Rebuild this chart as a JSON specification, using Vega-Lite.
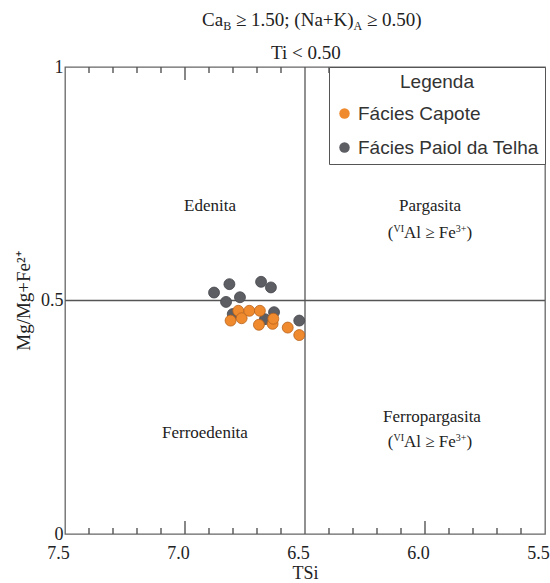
{
  "$schema": "https://vega.github.io/schema/vega-lite/v6.json",
  "autosize": {"type": "none"},
  "width": 480,
  "height": 467,
  "padding": {"left": 65, "top": 67, "right": 5, "bottom": 49},
  "background": "white",
  "config": {
    "view": {"stroke": "#666", "strokeWidth": 1.3},
    "text": {"font": "Liberation Serif", "fontSize": 17, "color": "#222"}
  },
  "datasets": {
    "points": [
      {"TSi": 6.879, "Mg": 0.517, "Facies": "Fácies Paiol da Telha"},
      {"TSi": 6.815, "Mg": 0.535, "Facies": "Fácies Paiol da Telha"},
      {"TSi": 6.829, "Mg": 0.497, "Facies": "Fácies Paiol da Telha"},
      {"TSi": 6.771, "Mg": 0.507, "Facies": "Fácies Paiol da Telha"},
      {"TSi": 6.683, "Mg": 0.540, "Facies": "Fácies Paiol da Telha"},
      {"TSi": 6.642, "Mg": 0.528, "Facies": "Fácies Paiol da Telha"},
      {"TSi": 6.801, "Mg": 0.471, "Facies": "Fácies Paiol da Telha"},
      {"TSi": 6.629, "Mg": 0.475, "Facies": "Fácies Paiol da Telha"},
      {"TSi": 6.667, "Mg": 0.460, "Facies": "Fácies Paiol da Telha"},
      {"TSi": 6.524, "Mg": 0.457, "Facies": "Fácies Paiol da Telha"},
      {"TSi": 6.810, "Mg": 0.457, "Facies": "Fácies Capote"},
      {"TSi": 6.778, "Mg": 0.478, "Facies": "Fácies Capote"},
      {"TSi": 6.764, "Mg": 0.462, "Facies": "Fácies Capote"},
      {"TSi": 6.732, "Mg": 0.478, "Facies": "Fácies Capote"},
      {"TSi": 6.688, "Mg": 0.478, "Facies": "Fácies Capote"},
      {"TSi": 6.692, "Mg": 0.448, "Facies": "Fácies Capote"},
      {"TSi": 6.635, "Mg": 0.450, "Facies": "Fácies Capote"},
      {"TSi": 6.632, "Mg": 0.461, "Facies": "Fácies Capote"},
      {"TSi": 6.572, "Mg": 0.442, "Facies": "Fácies Capote"},
      {"TSi": 6.524, "Mg": 0.426, "Facies": "Fácies Capote"}
    ],
    "minorTicks": [
      {"TSi": 7.4}, {"TSi": 7.3}, {"TSi": 7.2}, {"TSi": 7.1},
      {"TSi": 6.9}, {"TSi": 6.8}, {"TSi": 6.7}, {"TSi": 6.6},
      {"TSi": 6.4}, {"TSi": 6.3}, {"TSi": 6.2}, {"TSi": 6.1},
      {"TSi": 5.9}, {"TSi": 5.8}, {"TSi": 5.7}, {"TSi": 5.6}
    ],
    "majorTicks": [{"TSi": 7.0}, {"TSi": 6.0}],
    "fieldNames": [
      {"TSi": 6.896, "Mg": 0.692, "text": "Edenita"},
      {"TSi": 5.979, "Mg": 0.692, "text": "Pargasita"},
      {"TSi": 6.917, "Mg": 0.2056, "text": "Ferroedenita"},
      {"TSi": 5.971, "Mg": 0.240, "text": "Ferropargasita"}
    ],
    "conditionText": [
      {"TSi": 6.155, "Mg": 0.634, "text": "("},
      {"TSi": 6.0875, "Mg": 0.634, "text": "Al ≥ Fe"},
      {"TSi": 5.827, "Mg": 0.634, "text": ")"},
      {"TSi": 6.155, "Mg": 0.186, "text": "("},
      {"TSi": 6.0875, "Mg": 0.186, "text": "Al ≥ Fe"},
      {"TSi": 5.827, "Mg": 0.186, "text": ")"}
    ],
    "conditionSup": [
      {"TSi": 6.131, "Mg": 0.634, "text": "VI"},
      {"TSi": 5.872, "Mg": 0.634, "text": "3+"},
      {"TSi": 6.131, "Mg": 0.186, "text": "VI"},
      {"TSi": 5.872, "Mg": 0.186, "text": "3+"}
    ],
    "headText": [
      {"TSi": 6.929, "Mg": 1.0878, "text": "Ca"},
      {"TSi": 6.788, "Mg": 1.0878, "text": "≥ 1.50; (Na+K)"},
      {"TSi": 6.242, "Mg": 1.0878, "text": "≥ 0.50)"}
    ],
    "headSub": [
      {"TSi": 6.841, "Mg": 1.0878, "text": "B"},
      {"TSi": 6.298, "Mg": 1.0878, "text": "A"}
    ],
    "headLine2": [
      {"TSi": 6.496, "Mg": 1.0171, "text": "Ti < 0.50"}
    ]
  },
  "layer": [
    {
      "data": {"values": [{}]},
      "mark": {"type": "rule", "color": "#555", "strokeWidth": 1.3},
      "encoding": {
        "x": {"datum": 7.5, "type": "quantitative", "scale": {"domain": [5.5, 7.5], "reverse": true, "nice": false, "zero": false}},
        "x2": {"datum": 5.5},
        "y": {"datum": 0.5, "type": "quantitative", "scale": {"domain": [0, 1], "nice": false, "zero": false}}
      }
    },
    {
      "data": {"values": [{}]},
      "mark": {"type": "rule", "color": "#555", "strokeWidth": 1.3},
      "encoding": {
        "x": {"datum": 6.5, "type": "quantitative"},
        "y": {"datum": 0, "type": "quantitative"},
        "y2": {"datum": 1}
      }
    },
    {
      "data": {"name": "minorTicks"},
      "mark": {"type": "rule", "color": "#555", "strokeWidth": 1.4},
      "encoding": {
        "x": {"field": "TSi", "type": "quantitative"},
        "y": {"datum": 0, "type": "quantitative"},
        "y2": {"datum": 0.0128}
      }
    },
    {
      "data": {"name": "minorTicks"},
      "mark": {"type": "rule", "color": "#555", "strokeWidth": 1.4},
      "encoding": {
        "x": {"field": "TSi", "type": "quantitative"},
        "y": {"datum": 1, "type": "quantitative"},
        "y2": {"datum": 0.9872}
      }
    },
    {
      "data": {"name": "majorTicks"},
      "mark": {"type": "rule", "color": "#555", "strokeWidth": 1.4},
      "encoding": {
        "x": {"field": "TSi", "type": "quantitative"},
        "y": {"datum": 0, "type": "quantitative"},
        "y2": {"datum": 0.028}
      }
    },
    {
      "data": {"name": "majorTicks"},
      "mark": {"type": "rule", "color": "#555", "strokeWidth": 1.4},
      "encoding": {
        "x": {"field": "TSi", "type": "quantitative"},
        "y": {"datum": 1, "type": "quantitative"},
        "y2": {"datum": 0.972}
      }
    },
    {
      "data": {"name": "fieldNames"},
      "mark": {"type": "text", "align": "center", "baseline": "alphabetic"},
      "encoding": {
        "x": {"field": "TSi", "type": "quantitative"},
        "y": {"field": "Mg", "type": "quantitative"},
        "text": {"field": "text"}
      }
    },
    {
      "data": {"name": "conditionText"},
      "mark": {"type": "text", "align": "left", "baseline": "alphabetic"},
      "encoding": {
        "x": {"field": "TSi", "type": "quantitative"},
        "y": {"field": "Mg", "type": "quantitative"},
        "text": {"field": "text"}
      }
    },
    {
      "data": {"name": "conditionSup"},
      "mark": {"type": "text", "align": "left", "baseline": "alphabetic", "fontSize": 10, "dy": -6},
      "encoding": {
        "x": {"field": "TSi", "type": "quantitative"},
        "y": {"field": "Mg", "type": "quantitative"},
        "text": {"field": "text"}
      }
    },
    {
      "data": {"name": "headText"},
      "mark": {"type": "text", "align": "left", "baseline": "alphabetic", "fontSize": 19},
      "encoding": {
        "x": {"field": "TSi", "type": "quantitative"},
        "y": {"field": "Mg", "type": "quantitative"},
        "text": {"field": "text"}
      }
    },
    {
      "data": {"name": "headSub"},
      "mark": {"type": "text", "align": "left", "baseline": "alphabetic", "fontSize": 12, "dy": 4},
      "encoding": {
        "x": {"field": "TSi", "type": "quantitative"},
        "y": {"field": "Mg", "type": "quantitative"},
        "text": {"field": "text"}
      }
    },
    {
      "data": {"name": "headLine2"},
      "mark": {"type": "text", "align": "center", "baseline": "alphabetic", "fontSize": 19},
      "encoding": {
        "x": {"field": "TSi", "type": "quantitative"},
        "y": {"field": "Mg", "type": "quantitative"},
        "text": {"field": "text"}
      }
    },
    {
      "data": {"name": "points"},
      "mark": {"type": "circle", "size": 120, "opacity": 1, "strokeWidth": 0.8},
      "encoding": {
        "x": {
          "field": "TSi",
          "type": "quantitative",
          "axis": {
            "title": "TSi",
            "values": [7.5, 7.0, 6.5, 6.0, 5.5],
            "format": ".1f",
            "ticks": false,
            "domain": false,
            "grid": false,
            "labelFlush": false,
            "labelOverlap": false,
            "labelFont": "Liberation Serif",
            "labelFontSize": 18,
            "labelColor": "#222",
            "labelPadding": 10,
            "labelOffset": -7,
            "titleFont": "Liberation Serif",
            "titleFontSize": 18,
            "titleFontWeight": "normal",
            "titleColor": "#222",
            "titlePadding": 2
          }
        },
        "y": {
          "field": "Mg",
          "type": "quantitative",
          "axis": {
            "title": "Mg/Mg+Fe²⁺",
            "values": [0, 0.5, 1],
            "format": "~g",
            "ticks": false,
            "domain": false,
            "grid": false,
            "labelFlush": false,
            "labelOverlap": false,
            "labelFont": "Liberation Serif",
            "labelFontSize": 18,
            "labelColor": "#222",
            "labelPadding": 2,
            "titleFont": "Liberation Serif",
            "titleFontSize": 19,
            "titleFontWeight": "normal",
            "titleColor": "#222",
            "titlePadding": 7
          }
        },
        "color": {
          "field": "Facies",
          "type": "nominal",
          "scale": {"domain": ["Fácies Capote", "Fácies Paiol da Telha"], "range": ["#F08A2E", "#5D5E64"]},
          "legend": {
            "title": "Legenda",
            "orient": "top-right",
            "offset": 0,
            "fillColor": "white",
            "strokeColor": "#555",
            "padding": 6,
            "titleFont": "Liberation Sans",
            "titleFontSize": 19,
            "titleFontWeight": "normal",
            "titleColor": "#333",
            "titleAnchor": "middle",
            "titlePadding": 12,
            "labelFont": "Liberation Sans",
            "labelFontSize": 19,
            "labelColor": "#333",
            "labelOffset": 4,
            "labelLimit": 0,
            "symbolType": "circle",
            "symbolSize": 110,
            "symbolStrokeWidth": 0,
            "rowPadding": 14
          }
        },
        "stroke": {
          "field": "Facies",
          "type": "nominal",
          "scale": {"domain": ["Fácies Capote", "Fácies Paiol da Telha"], "range": ["#B8621C", "#45464B"]},
          "legend": null
        }
      }
    }
  ]
}
